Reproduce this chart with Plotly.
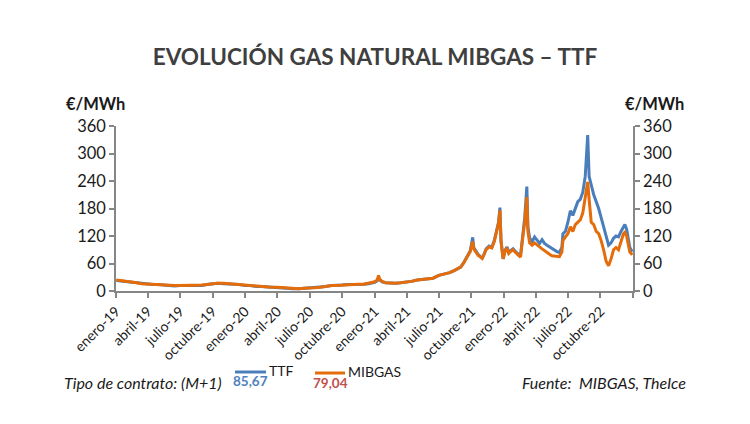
import plotly.graph_objects as go

# ---------------- data ----------------
dates_2019 = ["2019-01-02","2019-01-15","2019-02-01","2019-02-15","2019-03-01","2019-03-15","2019-04-01","2019-04-15",
              "2019-05-01","2019-05-15","2019-06-01","2019-06-15","2019-07-01","2019-07-15","2019-08-01","2019-08-15",
              "2019-09-01","2019-09-15","2019-10-01","2019-10-15","2019-11-01","2019-11-15","2019-12-01","2019-12-15"]
dates_2020 = ["2020-01-01","2020-01-15","2020-02-01","2020-02-15","2020-03-01","2020-03-15","2020-04-01","2020-04-15",
              "2020-05-01","2020-05-15","2020-06-01","2020-06-15","2020-07-01","2020-07-15","2020-08-01","2020-08-15",
              "2020-09-01","2020-09-15","2020-10-01","2020-10-15","2020-11-01","2020-11-15","2020-12-01","2020-12-15"]
dates_2021 = ["2021-01-01","2021-01-08","2021-01-12","2021-01-15","2021-01-22","2021-02-01","2021-02-15","2021-03-01",
              "2021-03-15","2021-04-01","2021-04-15","2021-05-01","2021-05-15","2021-06-01","2021-06-15","2021-07-01",
              "2021-07-15","2021-08-01","2021-08-15","2021-09-01","2021-09-10","2021-09-20","2021-09-28","2021-10-01",
              "2021-10-05","2021-10-08","2021-10-12","2021-10-20","2021-10-27","2021-11-01","2021-11-05","2021-11-12",
              "2021-11-20","2021-11-28","2021-12-05","2021-12-12","2021-12-17","2021-12-21","2021-12-24","2021-12-30"]
dates_2022 = ["2022-01-05","2022-01-10","2022-01-15","2022-01-20","2022-01-27","2022-02-03","2022-02-10","2022-02-17",
              "2022-02-24","2022-03-01","2022-03-07","2022-03-10","2022-03-15","2022-03-22","2022-03-29","2022-04-05",
              "2022-04-12","2022-04-19","2022-04-26","2022-05-03","2022-05-10","2022-05-17","2022-05-24","2022-05-31",
              "2022-06-07","2022-06-14","2022-06-17","2022-06-24","2022-07-01","2022-07-08","2022-07-15","2022-07-22",
              "2022-07-29","2022-08-05","2022-08-12","2022-08-19","2022-08-26","2022-08-30","2022-09-05","2022-09-12",
              "2022-09-19","2022-09-26","2022-10-03","2022-10-10","2022-10-17","2022-10-24","2022-10-31","2022-11-07",
              "2022-11-14","2022-11-21","2022-11-28","2022-12-05","2022-12-09","2022-12-14","2022-12-19","2022-12-23",
              "2022-12-30"]

ttf_2019 = [23,22,20,19,17,16,15,14,14,13,12,11,12,12,12,11,12,14,16,17,16,16,15,14]
mib_2019 = [24,23,21,19,18,16,15,14,14,13,12,12,12,12,12,12,13,14,16,17,17,16,15,14]
ttf_2020 = [12,12,10,10,9,8,7,7,5,5,5,6,6,7,8,10,12,12,13,14,14,14,15,16]
mib_2020 = [13,12,11,10,9,8,8,7,6,5,5,6,6,7,8,10,12,12,13,14,14,15,15,17]
ttf_2021 = [19,22,28,24,20,18,17,17,18,19,21,24,25,26,28,34,36,40,45,52,62,75,88,
            100,117,95,90,80,75,72,78,92,98,95,110,130,150,182,110,70]
mib_2021 = [20,24,34,26,21,18,17,17,18,19,21,24,25,26,28,34,36,40,45,52,62,74,86,
            96,108,92,88,78,74,71,78,90,96,94,108,128,148,176,108,70]
ttf_2022 = [90,96,84,88,92,86,80,76,125,160,228,140,115,108,118,110,104,112,104,100,96,92,88,86,
            84,95,125,130,150,175,165,180,195,200,215,250,340,250,230,210,195,180,160,140,120,100,105,
            115,120,118,130,140,145,135,115,95,85.67]
mib_2022 = [88,94,82,86,90,84,78,74,120,150,205,130,105,100,105,100,95,92,88,83,80,77,76,76,
            75,85,110,118,125,140,130,145,150,155,170,200,238,200,150,145,130,125,110,90,65,55,70,
            90,95,90,110,125,128,120,100,85,79.04]

dates = dates_2019 + dates_2020 + dates_2021 + dates_2022
ttf = ttf_2019 + ttf_2020 + ttf_2021 + ttf_2022
mibgas = mib_2019 + mib_2020 + mib_2021 + mib_2022
assert len(dates) == len(ttf) == len(mibgas)

month_names = {1: "enero", 4: "abril", 7: "julio", 10: "octubre"}
tick_vals = []
tick_text = []
for yr in range(2019, 2023):
    for m in (1, 4, 7, 10):
        tick_vals.append(f"{yr}-{m:02d}-01")
        tick_text.append(f"{month_names[m]}-{str(yr)[2:]}")
tick_vals.append("2023-01-01")
tick_text.append("")

y_ticks = [0, 60, 120, 180, 240, 300, 360]

# ---------------- layout helpers ----------------
W, H = 750, 424
L, R, T, B = 116, 633, 126, 291
def px(x): return (x - L) / (R - L)
def py(y): return (B - y) / (B - T)

BLUE = "#4A7EBB"
ORANGE = "#E46C0A"
AXIS = "#868686"
FONT = "Lato"
TXT = "#1a1a1a"

fig = go.Figure()
fig.add_trace(go.Scatter(x=dates, y=ttf, mode="lines", name="TTF",
                         line=dict(color=BLUE, width=3), showlegend=False))
fig.add_trace(go.Scatter(x=dates, y=mibgas, mode="lines", name="MIBGAS",
                         line=dict(color=ORANGE, width=3), showlegend=False))
# invisible trace to carry the right axis
fig.add_trace(go.Scatter(x=[dates[0]], y=[0], yaxis="y2", mode="markers",
                         marker=dict(opacity=0), showlegend=False, hoverinfo="skip"))

axis_common = dict(showgrid=False, zeroline=False, showline=True, linecolor=AXIS, linewidth=1.5,
                   ticks="outside", ticklen=5, tickcolor=AXIS, tickwidth=1.5)

fig.update_layout(
    width=W, height=H,
    margin=dict(l=L, r=W - R, t=T, b=H - B),
    paper_bgcolor="white", plot_bgcolor="white",
    font=dict(family=FONT, color=TXT),
    title=dict(text="<b>EVOLUCIÓN GAS NATURAL MIBGAS – TTF</b>", x=0.5, xanchor="center",
               y=1 - 57 / H, yanchor="middle", font=dict(size=22.5, color="#3F3F3F", family=FONT)),
    xaxis=dict(type="date", range=["2019-01-01", "2023-01-01"], tickvals=tick_vals, ticktext=tick_text,
               tickangle=-45, tickfont=dict(size=14), **axis_common),
    yaxis=dict(range=[0, 360], tickvals=y_ticks, tickfont=dict(size=16.5), **axis_common),
    yaxis2=dict(range=[0, 360], tickvals=y_ticks, tickfont=dict(size=16.5), overlaying="y",
                side="right", **axis_common),
)

def note(text, x, y, size, color=TXT, xanchor="center"):
    return dict(text=text, x=px(x), y=py(y), xref="paper", yref="paper", xanchor=xanchor,
                yanchor="middle", showarrow=False, font=dict(size=size, color=color))

def fmt(v): return f"{v:.2f}".replace(".", ",")

ann = [
    note("<b>€/MWh</b>", 95, 104, 16.5),
    note("<b>€/MWh</b>", 654, 104, 16.5),
    note("<i>Tipo de contrato: (M+1)</i>", 62, 382, 16, xanchor="left"),
    note("<i>Fuente:  MIBGAS, TheIce</i>", 688, 382, 16, xanchor="right"),
    note("<b>" + fmt(ttf[-1]) + "</b>", 250, 381, 13.5, color="#4F81BD"),
    note("TTF", 267, 370, 14, xanchor="left"),
    note("<b>" + fmt(mibgas[-1]) + "</b>", 330, 383, 13.5, color="#C0504D"),
    note("MIBGAS", 346, 371, 14, xanchor="left"),
]
fig.update_layout(annotations=ann)

fig.update_layout(shapes=[
    dict(type="line", xref="paper", yref="paper", x0=px(235), x1=px(266), y0=py(372), y1=py(372),
         line=dict(color=BLUE, width=3)),
    dict(type="line", xref="paper", yref="paper", x0=px(315), x1=px(345), y0=py(373), y1=py(373),
         line=dict(color=ORANGE, width=3)),
])

fig.write_html("out.html")
